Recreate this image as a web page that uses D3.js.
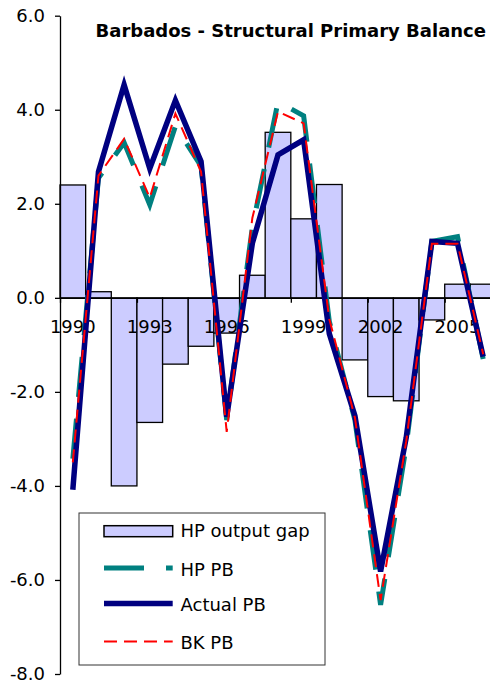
<!DOCTYPE html>
<html>
<head>
<meta charset="utf-8">
<script src="https://cdn.jsdelivr.net/npm/d3@7/dist/d3.min.js"></script>
<style>
  html, body { margin: 0; padding: 0; background: #fff; }
  svg { display: block; font-family: "DejaVu Sans", Verdana, sans-serif; }
</style>
</head>
<body>
<svg id="chart" width="490" height="688"></svg>
<script>
// Years on the category axis
const years = ["1990","1991","1992","1993","1994","1995","1996","1997","1998",
               "1999","2000","2001","2002","2003","2004","2005","2006"];
// Years that carry a label on the category axis
const yearLabels = ["1990","1993","1996","1999","2002","2005"];
// Value-axis ticks
const yTicks = [-8, -6, -4, -2, 0, 2, 4, 6];

// Series (% of GDP)
const hpOutputGap = [2.40, 0.13, -4.00, -2.65, -1.41, -1.03, -0.75, 0.48, 3.52,
                     1.68, 2.41, -1.32, -2.10, -2.19, -0.47, 0.29, 0.29];
const hpPB        = [-3.42, 2.55, 3.30, 1.98, 3.65, 2.80, -2.60, 1.50, 4.17,
                     3.87, -0.50, -2.60, -6.53, -3.15, 1.20, 1.30, -1.30];
const actualPB    = [-4.08, 2.68, 4.53, 2.75, 4.20, 2.90, -2.53, 1.16, 3.04,
                     3.36, -0.76, -2.51, -5.82, -2.97, 1.20, 1.16, -1.25];
const bkPB        = [-3.50, 2.60, 3.38, 2.13, 3.92, 2.68, -2.85, 1.70, 3.96,
                     3.71, -0.45, -2.55, -6.43, -3.05, 1.15, 1.15, -1.20];

const title = "Barbados - Structural Primary Balance";

const svg = d3.select("#chart");
const FONT = 18;

const x = d3.scaleBand().domain(years).range([60, 496]).padding(0);
const xIdx = d3.scaleLinear().domain([0, years.length]).range([60, 496]);
const y = d3.scaleLinear().domain([-8, 6]).range([674, 15.7]);

// Bars: HP output gap
svg.append("g").selectAll("rect")
  .data(years.map((yr, i) => ({ yr, v: hpOutputGap[i] })))
  .join("rect")
  .attr("x", d => x(d.yr))
  .attr("width", x.bandwidth())
  .attr("y", d => y(Math.max(0, d.v)))
  .attr("height", d => Math.abs(y(d.v) - y(0)))
  .attr("fill", "#CCCCFF")
  .attr("stroke", "#000")
  .attr("stroke-width", 1.3);

// Value axis
const yAxis = svg.append("g")
  .attr("transform", "translate(60,0)")
  .call(d3.axisLeft(y).tickValues(yTicks).tickFormat(d => d.toFixed(1))
        .tickSize(5).tickSizeOuter(0).tickPadding(10));
yAxis.selectAll("text").attr("font-size", FONT).attr("fill", "#000")
  .attr("font-family", "DejaVu Sans");
yAxis.selectAll("path,line").attr("stroke", "#000").attr("stroke-width", 1.3);

// Category axis along zero: tick marks at every third category boundary
const xTickAxis = svg.append("g")
  .attr("transform", `translate(0,${y(0)})`)
  .call(d3.axisBottom(xIdx).tickValues(d3.range(0, years.length, 3))
        .tickFormat("").tickSize(5).tickSizeOuter(0));
xTickAxis.selectAll("path,line").attr("stroke", "#000").attr("stroke-width", 1.3);

// Year labels
const xAxis = svg.append("g")
  .attr("transform", `translate(0,${y(0)})`)
  .call(d3.axisBottom(x).tickValues(yearLabels).tickSize(0).tickSizeOuter(0).tickPadding(22));
xAxis.select(".domain").remove();
xAxis.selectAll("text").attr("font-size", FONT).attr("fill", "#000")
  .attr("font-family", "DejaVu Sans");

// Lines
const lineGen = d3.line()
  .x((d, i) => x(years[i]) + x.bandwidth() / 2)
  .y(d => y(d));

const seriesStyles = [
  { data: hpPB,     color: "#008080", width: 5,   dash: "40,22" },
  { data: actualPB, color: "#000080", width: 5.5, dash: null },
  { data: bkPB,     color: "#FF0000", width: 2,   dash: "13,7" }
];

seriesStyles.forEach(s => {
  svg.append("path")
    .attr("d", lineGen(s.data))
    .attr("fill", "none")
    .attr("stroke", s.color)
    .attr("stroke-width", s.width)
    .attr("stroke-dasharray", s.dash)
    .attr("stroke-linejoin", "miter");
});

// Title
svg.append("text")
  .attr("x", 486).attr("y", 37)
  .attr("text-anchor", "end")
  .attr("font-size", FONT).attr("font-weight", "bold")
  .text(title);

// Legend
const legend = svg.append("g");
legend.append("rect")
  .attr("x", 79).attr("y", 513).attr("width", 246).attr("height", 152)
  .attr("fill", "#fff").attr("stroke", "#333").attr("stroke-width", 1);

const legendItems = [
  { label: "HP output gap", type: "bar" },
  { label: "HP PB",     type: "line", style: seriesStyles[0] },
  { label: "Actual PB", type: "line", style: seriesStyles[1] },
  { label: "BK PB",     type: "line", style: seriesStyles[2] }
];
const baselines = [537.3, 575.5, 611, 649];

legendItems.forEach((it, i) => {
  const b = baselines[i];
  if (it.type === "bar") {
    legend.append("rect")
      .attr("x", 104).attr("y", b - 11.6).attr("width", 68.7).attr("height", 11)
      .attr("fill", "#CCCCFF").attr("stroke", "#000").attr("stroke-width", 1.5);
  } else {
    legend.append("line")
      .attr("x1", 104).attr("x2", 172.7)
      .attr("y1", b - 7.5).attr("y2", b - 7.5)
      .attr("stroke", it.style.color)
      .attr("stroke-width", it.style.width)
      .attr("stroke-dasharray", it.style.dash);
  }
  legend.append("text")
    .attr("x", 180.5).attr("y", b)
    .attr("font-size", FONT)
    .text(it.label);
});
</script>
</body>
</html>
